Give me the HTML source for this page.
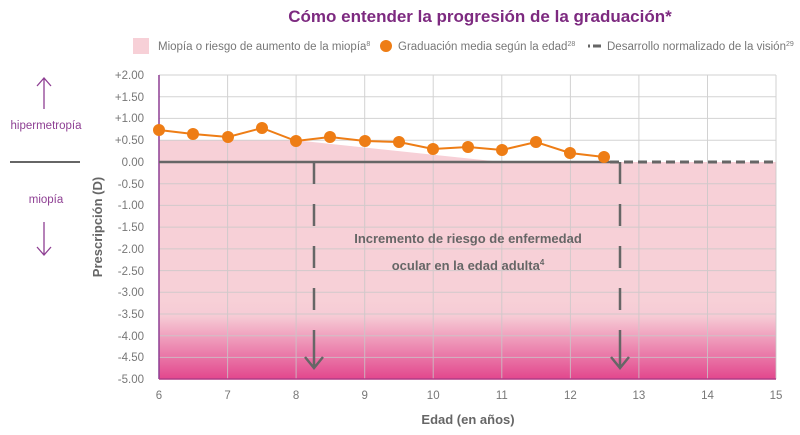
<!DOCTYPE html>
<html><head><meta charset="utf-8"><style>
body{margin:0;background:#fff;}
svg{display:block;font-family:"Liberation Sans",sans-serif;}
</style></head><body>
<svg width="800" height="435" viewBox="0 0 800 435" xmlns="http://www.w3.org/2000/svg">
<defs>
<linearGradient id="g" gradientUnits="userSpaceOnUse" x1="0" y1="300" x2="0" y2="380">
<stop offset="0" stop-color="#f7d0d7"/>
<stop offset="0.2" stop-color="#f6cbd5"/>
<stop offset="1" stop-color="#e2458c"/>
</linearGradient>
</defs>
<text x="480" y="22" text-anchor="middle" font-size="17" font-weight="bold" fill="#7d2a80">Cómo entender la progresión de la graduación*</text>
<rect x="133" y="38" width="16" height="16" fill="#f7d0d7"/>
<text x="158" y="50" font-size="11.5" fill="#777">Miopía o riesgo de aumento de la miopía<tspan font-size="7" dy="-4">8</tspan></text>
<circle cx="386" cy="46" r="6" fill="#ee7d15"/>
<text x="398" y="50" font-size="11.5" fill="#777">Graduación media según la edad<tspan font-size="7" dy="-4">28</tspan></text>
<line x1="588" y1="46" x2="604" y2="46" stroke="#666" stroke-width="3" stroke-dasharray="2 3 6 0"/>
<text x="607" y="50" font-size="11.5" fill="#777">Desarrollo normalizado de la visión<tspan font-size="7" dy="-4">29</tspan></text>
<path d="M159,140.3 L296,140.3 L502,162 L776,162 L776,379 L159,379 Z" fill="#f7d0d7"/>
<rect x="159" y="300" width="617" height="79" fill="url(#g)"/>
<g stroke="#c8c8c8" stroke-width="1" opacity="0.8">
<line x1="159" y1="75" x2="776" y2="75"/><line x1="159" y1="96.7" x2="776" y2="96.7"/><line x1="159" y1="118.4" x2="776" y2="118.4"/><line x1="159" y1="140.3" x2="776" y2="140.3"/>
<line x1="159" y1="183.7" x2="776" y2="183.7"/><line x1="159" y1="205.4" x2="776" y2="205.4"/><line x1="159" y1="227.1" x2="776" y2="227.1"/><line x1="159" y1="248.9" x2="776" y2="248.9"/><line x1="159" y1="270.6" x2="776" y2="270.6"/><line x1="159" y1="292.3" x2="776" y2="292.3"/><line x1="159" y1="314" x2="776" y2="314"/><line x1="159" y1="335.7" x2="776" y2="335.7"/><line x1="159" y1="357.4" x2="776" y2="357.4"/>
<line x1="227.6" y1="75" x2="227.6" y2="379"/><line x1="296.1" y1="75" x2="296.1" y2="379"/><line x1="364.7" y1="75" x2="364.7" y2="379"/><line x1="433.2" y1="75" x2="433.2" y2="379"/><line x1="501.8" y1="75" x2="501.8" y2="379"/><line x1="570.4" y1="75" x2="570.4" y2="379"/><line x1="638.9" y1="75" x2="638.9" y2="379"/><line x1="707.5" y1="75" x2="707.5" y2="379"/><line x1="776" y1="75" x2="776" y2="379"/>
</g>
<line x1="159" y1="75" x2="159" y2="379" stroke="#8e3f93" stroke-width="1.5"/>
<line x1="159" y1="379" x2="776" y2="379" stroke="#b03c86" stroke-width="1.5"/>
<line x1="159" y1="162" x2="610" y2="162" stroke="#666" stroke-width="2.5"/>
<line x1="610" y1="162" x2="776" y2="162" stroke="#666" stroke-width="3" stroke-dasharray="9 5"/>
<g stroke="#666" stroke-width="2.5" fill="none">
<line x1="314" y1="162" x2="314" y2="345" stroke-dasharray="22 20"/>
<line x1="620" y1="162" x2="620" y2="345" stroke-dasharray="22 20"/>
<path d="M314,345 V368 M305,357 L314,368 L323,357"/>
<path d="M620,345 V368 M611,357 L620,368 L629,357"/>
</g>
<text x="468" y="243" text-anchor="middle" font-size="13" font-weight="bold" fill="#666">Incremento de riesgo de enfermedad</text>
<text x="468" y="270" text-anchor="middle" font-size="13" font-weight="bold" fill="#666">ocular en la edad adulta<tspan font-size="8" dy="-5">4</tspan></text>
<polyline points="159,130 193,134 228,137 262,128 296,141 330,137 365,141 399,142 433,149 468,147 502,150 536,142 570,153 604,157" fill="none" stroke="#ee7d15" stroke-width="2"/>
<g fill="#ee7d15">
<circle cx="159" cy="130" r="6"/><circle cx="193" cy="134" r="6"/><circle cx="228" cy="137" r="6"/><circle cx="262" cy="128" r="6"/><circle cx="296" cy="141" r="6"/><circle cx="330" cy="137" r="6"/><circle cx="365" cy="141" r="6"/><circle cx="399" cy="142" r="6"/><circle cx="433" cy="149" r="6"/><circle cx="468" cy="147" r="6"/><circle cx="502" cy="150" r="6"/><circle cx="536" cy="142" r="6"/><circle cx="570" cy="153" r="6"/><circle cx="604" cy="157" r="6"/>
</g>
<g font-size="11.5" fill="#777" text-anchor="end">
<text x="144" y="79">+2.00</text><text x="144" y="101">+1.50</text><text x="144" y="122">+1.00</text><text x="144" y="144">+0.50</text><text x="144" y="166">0.00</text><text x="144" y="188">-0.50</text><text x="144" y="209">-1.00</text><text x="144" y="231">-1.50</text><text x="144" y="253">-2.00</text><text x="144" y="275">-2.50</text><text x="144" y="296">-3.00</text><text x="144" y="318">-3.50</text><text x="144" y="340">-4.00</text><text x="144" y="361">-4.50</text><text x="144" y="383">-5.00</text>
</g>
<g font-size="11.5" fill="#777" text-anchor="middle">
<text x="159" y="399">6</text><text x="227.6" y="399">7</text><text x="296.1" y="399">8</text><text x="364.7" y="399">9</text><text x="433.2" y="399">10</text><text x="501.8" y="399">11</text><text x="570.4" y="399">12</text><text x="638.9" y="399">13</text><text x="707.5" y="399">14</text><text x="776" y="399">15</text>
</g>
<text x="468" y="424" text-anchor="middle" font-size="13" font-weight="bold" fill="#666">Edad (en años)</text>
<text transform="translate(102,227) rotate(-90)" text-anchor="middle" font-size="13" font-weight="bold" fill="#666">Prescripción (D)</text>
<g stroke="#8e3f93" stroke-width="1.3" fill="none">
<path d="M44,109 V78 M37,86 L44,78 L51,86"/>
<path d="M44,222 V255 M37,247 L44,255 L51,247"/>
</g>
<text x="46" y="129" text-anchor="middle" font-size="11.5" fill="#8e3f93">hipermetropía</text>
<line x1="10" y1="162" x2="80" y2="162" stroke="#666" stroke-width="2"/>
<text x="46" y="203" text-anchor="middle" font-size="11.5" fill="#8e3f93">miopía</text>
</svg>
</body></html>
